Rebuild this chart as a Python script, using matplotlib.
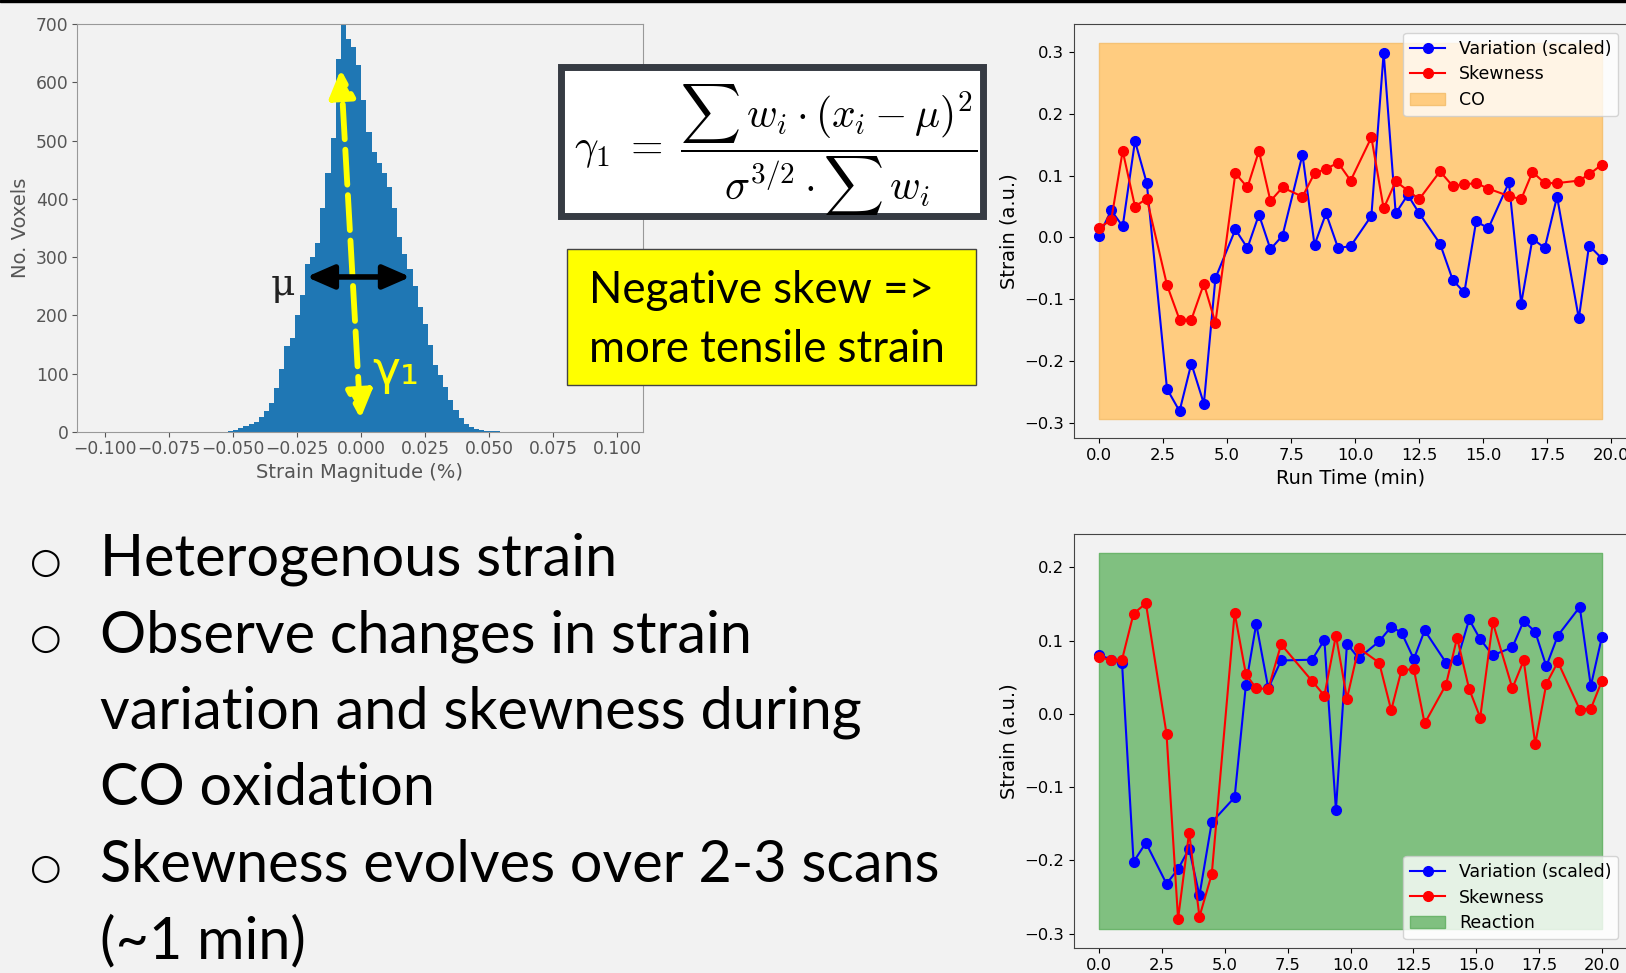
import numpy as np
import matplotlib.pyplot as plt
from matplotlib.patches import Rectangle

W, H = 1626, 973
BG = '#f2f2f2'

# strain histogram: bins of 0.002 starting at -0.052
hist_lo = -0.052
hist_w = 0.002
hist_counts = [2, 4, 7, 10, 13, 18, 26, 36, 50, 75, 108, 148, 162, 200, 235, 288,
               300, 325, 385, 445, 505, 640, 698, 675, 660, 630, 570, 515, 480, 462,
               445, 420, 385, 335, 305, 280, 250, 215, 185, 150, 115, 98, 78, 55,
               38, 24, 14, 8, 5, 3, 2, 1, 1]

# CO run
t_co = [0.0, 0.47, 0.92, 1.40, 1.86, 2.65, 3.14, 3.60, 4.09, 4.54,
        5.32, 5.79, 6.24, 6.69, 7.16, 7.94, 8.41, 8.86, 9.33, 9.82,
        10.63, 11.11, 11.58, 12.05, 12.50, 13.31, 13.81, 14.26, 14.72, 15.20,
        16.00, 16.48, 16.92, 17.40, 17.88, 18.73, 19.13, 19.63]
var_co = [0.003, 0.044, 0.018, 0.156, 0.088, -0.245, -0.281, -0.204, -0.269, -0.066,
          0.013, -0.017, 0.037, -0.019, 0.003, 0.134, -0.012, 0.039, -0.017, -0.014,
          0.035, 0.299, 0.039, 0.069, 0.039, -0.010, -0.069, -0.089, 0.026, 0.015,
          0.089, -0.107, -0.002, -0.017, 0.066, -0.131, -0.013, -0.034]
skew_co = [0.016, 0.028, 0.140, 0.050, 0.063, -0.077, -0.133, -0.133, -0.075, -0.138,
           0.104, 0.081, 0.140, 0.059, 0.081, 0.066, 0.104, 0.111, 0.121, 0.092,
           0.162, 0.047, 0.091, 0.076, 0.062, 0.107, 0.083, 0.086, 0.088, 0.079,
           0.067, 0.062, 0.106, 0.088, 0.088, 0.092, 0.102, 0.118]
co_band = (-0.294, 0.315)

# reaction run
t_rx = [0.0, 0.47, 0.91, 1.37, 1.86, 2.68, 3.14, 3.58, 3.99, 4.48,
        5.39, 5.84, 6.25, 6.73, 7.24, 8.47, 8.96, 9.42, 9.86, 10.32,
        11.14, 11.62, 12.03, 12.52, 12.95, 13.80, 14.24, 14.72, 15.16, 15.66,
        16.44, 16.89, 17.35, 17.79, 18.25, 19.12, 19.56, 20.0]
var_rx = [0.081, 0.074, 0.070, -0.202, -0.176, -0.232, -0.212, -0.184, -0.248, -0.148,
          -0.114, 0.040, 0.123, 0.035, 0.073, 0.074, 0.101, -0.131, 0.096, 0.076,
          0.099, 0.119, 0.111, 0.075, 0.114, 0.070, 0.073, 0.129, 0.102, 0.080,
          0.091, 0.127, 0.112, 0.065, 0.107, 0.146, 0.038, 0.105]
skew_rx = [0.078, 0.073, 0.074, 0.137, 0.151, -0.027, -0.280, -0.162, -0.277, -0.219,
           0.138, 0.054, 0.035, 0.034, 0.095, 0.045, 0.025, 0.107, 0.021, 0.090,
           0.070, 0.005, 0.060, 0.061, -0.013, 0.040, 0.104, 0.034, -0.005, 0.125,
           0.035, 0.073, -0.041, 0.041, 0.071, 0.006, 0.007, 0.045]
rx_band = (-0.294, 0.220)

bullets = ["Heterogenous strain", "Observe changes in strain",
           "variation and skewness during", "CO oxidation",
           "Skewness evolves over 2-3 scans", "(~1 min)"]
bullet_on = [True, True, False, False, True, False]


def px_rect(x0, y0, x1, y1):
    # pixel box (top-left origin) -> figure fraction rect
    return [x0 / W, 1 - y1 / H, (x1 - x0) / W, (y1 - y0) / H]


plt.rcParams['mathtext.fontset'] = 'cm'
fig = plt.figure(figsize=(W / 100, H / 100), dpi=100, facecolor=BG)
fig.add_artist(Rectangle((0, 1 - 2 / H), 1, 2 / H, transform=fig.transFigure,
                         color='black', zorder=10))

# ---- histogram
ax = fig.add_axes(px_rect(77, 24, 643, 432))
ax.set_facecolor(BG)
edges = hist_lo + hist_w * np.arange(len(hist_counts) + 1)
ax.stairs(hist_counts, edges, fill=True, color='#1f77b4')
ax.set_xlim(-0.111, 0.110)
ax.set_ylim(0, 700)
ax.set_xticks(np.arange(-0.1, 0.1001, 0.025))
ax.set_yticks(np.arange(0, 701, 100))
ax.tick_params(labelsize=12.3, colors='#555555', pad=2.5)
for s in ax.spines.values():
    s.set_color('#999999')
ax.set_xlabel('Strain Magnitude (%)', fontsize=14, color='#555555', labelpad=3)
ax.set_ylabel('No. Voxels', fontsize=14, color='#555555')

ax.annotate('', xy=(-0.0080, 622), xytext=(-0.0003, 23),
            arrowprops=dict(arrowstyle='<|-|>,head_length=0.55,head_width=0.26',
                            color='#ffff00', lw=4.2, linestyle=(0, (6, 1.8)),
                            mutation_scale=30, shrinkA=0, shrinkB=0))
ax.annotate('', xy=(-0.0214, 266), xytext=(0.0192, 266),
            arrowprops=dict(arrowstyle='<|-|>,head_length=0.55,head_width=0.24',
                            color='black', lw=4, mutation_scale=30,
                            shrinkA=0, shrinkB=0))
ax.text(-0.0307, 252, 'μ', fontsize=27, family='DejaVu Serif', color='#222222',
        ha='center', va='center')
ax.text(0.0135, 104, 'γ₁', fontsize=34, color='#ffff00', ha='center', va='center')

# ---- formula box
bx = fig.add_axes(px_rect(560.5, 66.5, 982.5, 215.5))
bx.set_axis_off()
bx.add_patch(Rectangle((0, 0), 1, 1, transform=bx.transAxes, facecolor='white',
                       edgecolor='#363b43', lw=5, clip_on=False))
fig.text(776 / W, 1 - 150 / H,
         r'$\gamma_1 \;=\; \dfrac{\sum\, w_i \cdot (x_i - \mu)^2}{\sigma^{3/2} \cdot \sum\, w_i}$',
         fontsize=30, ha='center', va='center')

# ---- yellow note
yx = fig.add_axes(px_rect(567, 249, 976, 385))
yx.set_axis_off()
yx.add_patch(Rectangle((0, 0), 1, 1, transform=yx.transAxes, facecolor='#ffff00',
                       edgecolor='#444444', lw=1, clip_on=False))
for line, base in zip(['Negative skew =>', 'more tensile strain'], [303, 362]):
    fig.text(589 / W, 1 - base / H, line, fontsize=31.5, family=['Lato', 'DejaVu Sans'],
             va='baseline', ha='left', color='black')

# ---- bullet list
for i, (line, on) in enumerate(zip(bullets, bullet_on)):
    base = 576 + i * 76.4
    fig.text(100 / W, 1 - base / H, line, fontsize=41.5, family=['Lato', 'DejaVu Sans'],
             va='baseline', ha='left', color='black')
    if on:
        fig.text(46 / W, 1 - (base - 13) / H, '○', fontsize=26, family='DejaVu Sans',
                 ha='center', va='center', color='black')


# ---- time series
def series(rect, t, var, skew, band, face, edge, band_lab, loc, xlabel):
    a = fig.add_axes(px_rect(*rect))
    a.set_facecolor(BG)
    band_h = a.fill_between([t[0], t[-1]], band[0], band[1], facecolor=face,
                            edgecolor=edge, lw=1)
    h1, = a.plot(t, var, 'o-', color='blue', lw=1.5, ms=7)
    h2, = a.plot(t, skew, 'o-', color='red', lw=1.5, ms=7)
    a.legend(handles=[h1, h2, band_h],
             labels=['Variation (scaled)', 'Skewness', band_lab], loc=loc,
             fontsize=12.5, labelspacing=0.45)
    a.set_ylabel('Strain (a.u.)', fontsize=14)
    if xlabel:
        a.set_xlabel('Run Time (min)', fontsize=14)
    a.set_xticks(np.arange(0, 20.1, 2.5))
    a.tick_params(labelsize=11.8)
    for s in a.spines.values():
        s.set_color('#444444')
    return a


series((1074, 24, 1627, 438), t_co, var_co, skew_co, co_band,
       '#ffcc80', '#f5c275', 'CO', 'upper right', True)
series((1074, 534, 1627, 948), t_rx, var_rx, skew_rx, rx_band,
       '#80c080', '#6cb56c', 'Reaction', 'lower right', False)

fig.savefig('out.png', dpi=100, facecolor=BG)
